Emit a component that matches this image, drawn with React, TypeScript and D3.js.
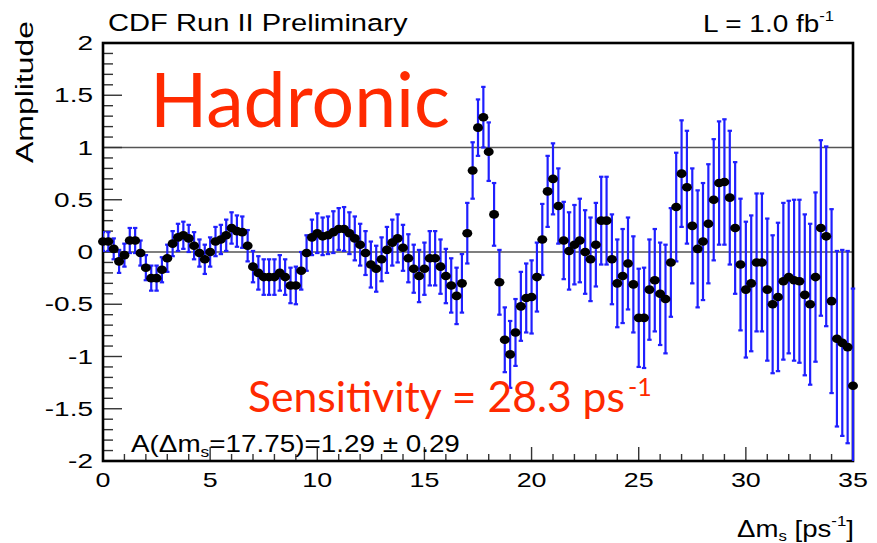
import React from "react";
import * as d3 from "d3";

// Amplitude scan: one point every 0.25 ps^-1 from 0 to 35 ps^-1
const AMPLITUDE = [
  0.10, 0.10, 0.03, -0.09, -0.03, 0.11, 0.11, -0.01, -0.15, -0.25,
  -0.25, -0.17, -0.06, 0.08, 0.14, 0.16, 0.13, 0.06, -0.01, -0.07,
  0.00, 0.10, 0.12, 0.16, 0.23, 0.20, 0.19, 0.06, -0.14, -0.20,
  -0.24, -0.24, -0.24, -0.20, -0.24, -0.32, -0.32, -0.18, -0.01, 0.14,
  0.18, 0.15, 0.16, 0.19, 0.22, 0.22, 0.18, 0.13, 0.07, -0.01,
  -0.12, -0.16, -0.07, 0.02, 0.09, 0.13, 0.04, -0.06, -0.16, -0.23,
  -0.16, -0.06, -0.06, -0.14, -0.23, -0.32, -0.42, -0.30, 0.18, 0.78,
  1.19, 1.29, 0.96, 0.36, -0.29, -0.84, -0.98, -0.77, -0.52, -0.44,
  -0.43, -0.24, 0.12, 0.58, 0.70, 0.44, 0.11, 0.01, 0.07, 0.11,
  0.00, -0.07, 0.07, 0.30, 0.30, -0.07, -0.30, -0.23, -0.11, -0.31,
  -0.63, -0.63, -0.36, -0.27, -0.40, -0.45, -0.10, 0.43, 0.75, 0.62,
  0.25, 0.03, 0.10, 0.27, 0.50, 0.66, 0.67, 0.52, 0.23, -0.12,
  -0.36, -0.30, -0.10, -0.10, -0.36, -0.50, -0.43, -0.28, -0.24, -0.27,
  -0.28, -0.41, -0.50, -0.24, 0.23, 0.15, -0.47, -0.83, -0.87, -0.91,
  -1.28,
];

const SIGMA = [
  0.09, 0.09, 0.10, 0.11, 0.11, 0.12, 0.12, 0.12, 0.12, 0.12,
  0.12, 0.12, 0.13, 0.12, 0.13, 0.13, 0.13, 0.13, 0.13, 0.14,
  0.14, 0.14, 0.14, 0.15, 0.15, 0.15, 0.15, 0.15, 0.15, 0.16,
  0.17, 0.17, 0.17, 0.17, 0.17, 0.17, 0.18, 0.18, 0.17, 0.17,
  0.19, 0.18, 0.18, 0.20, 0.20, 0.21, 0.20, 0.21, 0.20, 0.21,
  0.22, 0.22, 0.21, 0.22, 0.22, 0.23, 0.22, 0.23, 0.23, 0.25,
  0.25, 0.26, 0.26, 0.26, 0.26, 0.26, 0.27, 0.28, 0.29, 0.27,
  0.27, 0.29, 0.28, 0.30, 0.31, 0.31, 0.32, 0.32, 0.33, 0.33,
  0.35, 0.33, 0.34, 0.34, 0.34, 0.36, 0.37, 0.37, 0.38, 0.40,
  0.40, 0.40, 0.40, 0.42, 0.42, 0.43, 0.42, 0.45, 0.44, 0.46,
  0.47, 0.48, 0.48, 0.49, 0.49, 0.52, 0.52, 0.52, 0.51, 0.54,
  0.55, 0.56, 0.56, 0.57, 0.58, 0.59, 0.60, 0.64, 0.63, 0.63,
  0.65, 0.65, 0.66, 0.66, 0.68, 0.66, 0.71, 0.75, 0.73, 0.77,
  0.78, 0.77, 0.77, 0.81, 0.84, 0.86, 0.88, 0.84, 0.89, 0.92,
  0.93,
];

const DM_STEP = 0.25;
const X_MAJOR = [0, 5, 10, 15, 20, 25, 30, 35];
const Y_MAJOR = [-2, -1.5, -1, -0.5, 0, 0.5, 1, 1.5, 2];
const Y_LABELS = ["-2", "-1.5", "-1", "-0.5", "0", "0.5", "1", "1.5", "2"];
const REF_LINES = [0, 1];

const W = 877;
const H = 543;
const LEFT = 103;
const RIGHT = 853;
const TOP = 43;
const BOTTOM = 461;

const ROOT_FONT = "'Liberation Sans', Arial, Helvetica, sans-serif";
const RED_FONT = "Lato, 'Open Sans', sans-serif";
const RED = "#ff2a00";
const BLUE = "#1f1fff";

function SText(props: {
  x: number;
  y: number;
  sx?: number;
  size: number;
  anchor?: string;
  fill?: string;
  children: React.ReactNode;
}) {
  const { x, y, sx = 1.25, size, anchor = "start", fill = "#000", children } = props;
  return (
    <text
      transform={`translate(${x},${y}) scale(${sx},1)`}
      fontSize={size}
      textAnchor={anchor}
      fill={fill}
      fontFamily={ROOT_FONT}
    >
      {children}
    </text>
  );
}

export default function App() {
  const x = d3.scaleLinear().domain([0, 35]).range([LEFT, RIGHT]);
  const y = d3.scaleLinear().domain([-2, 2]).range([BOTTOM, TOP]);

  const points = AMPLITUDE.map((a, i) => ({ dm: i * DM_STEP, a, s: SIGMA[i] }));
  const xMinor = d3.range(0, 36, 1).filter((v) => v % 5 !== 0);
  const yMinor = d3.range(-20, 21, 1).filter((v) => v % 5 !== 0).map((v) => v / 10);

  return (
    <svg
      width={W}
      height={H}
      style={{ position: "absolute", left: 0, top: 0, background: "#fff" }}
    >
      <defs>
        <clipPath id="frame">
          <rect x={LEFT} y={TOP} width={RIGHT - LEFT + 3} height={BOTTOM - TOP} />
        </clipPath>
      </defs>

      {/* reference lines at A = 0 and A = 1 */}
      {REF_LINES.map((v) => (
        <line key={v} x1={LEFT} x2={RIGHT} y1={y(v)} y2={y(v)} stroke="#555" strokeWidth={1.4} />
      ))}

      {/* y ticks */}
      {Y_MAJOR.map((v) => (
        <line key={"ym" + v} x1={LEFT} x2={LEFT + 19} y1={y(v)} y2={y(v)} stroke="#333" strokeWidth={1.4} />
      ))}
      {yMinor.map((v) => (
        <line key={"yn" + v} x1={LEFT} x2={LEFT + 10} y1={y(v)} y2={y(v)} stroke="#333" strokeWidth={1.4} />
      ))}
      {/* x ticks */}
      {X_MAJOR.map((v) => (
        <line key={"xm" + v} x1={x(v)} x2={x(v)} y1={BOTTOM} y2={BOTTOM - 14} stroke="#333" strokeWidth={1.4} />
      ))}
      {xMinor.map((v) => (
        <line key={"xn" + v} x1={x(v)} x2={x(v)} y1={BOTTOM} y2={BOTTOM - 7} stroke="#333" strokeWidth={1.4} />
      ))}

      {/* frame */}
      <rect x={LEFT} y={TOP} width={RIGHT - LEFT} height={BOTTOM - TOP} fill="none" stroke="#000" strokeWidth={2.6} />

      {/* error bars */}
      <g clipPath="url(#frame)" stroke={BLUE} strokeWidth={2.2}>
        {points.map((p, i) => {
          const cx = x(p.dm);
          const y1 = y(p.a + p.s);
          const y2 = y(p.a - p.s);
          return (
            <g key={i}>
              <line x1={cx} x2={cx} y1={y1} y2={y2} />
              <line x1={cx - 2.2} x2={cx + 2.2} y1={y1} y2={y1} />
              <line x1={cx - 2.2} x2={cx + 2.2} y1={y2} y2={y2} />
            </g>
          );
        })}
      </g>

      {/* markers */}
      <g fill="#000">
        {points.map((p, i) => (
          <ellipse key={i} cx={x(p.dm)} cy={y(p.a)} rx={5} ry={4.3} />
        ))}
      </g>

      {/* tick labels */}
      {Y_MAJOR.map((v, i) => (
        <SText key={"yl" + v} x={93} y={y(v) + 7} size={20} sx={1.4} anchor="end">
          {Y_LABELS[i]}
        </SText>
      ))}
      {X_MAJOR.map((v) => (
        <SText key={"xl" + v} x={x(v)} y={487} size={21} sx={1.28} anchor="middle">
          {String(v)}
        </SText>
      ))}

      {/* axis titles */}
      <text
        transform={`translate(33,163) rotate(-90)`}
        fontSize={23}
        fontFamily={ROOT_FONT}
        textLength={142}
        lengthAdjust="spacingAndGlyphs"
      >
        Amplitude
      </text>
      <SText x={737} y={537} size={23} sx={1.2}>
        Δm<tspan fontSize={14} dy={4}>s</tspan>
        <tspan fontSize={23} dy={-4}> [ps</tspan>
        <tspan fontSize={14} dy={-11}>-1</tspan>
        <tspan fontSize={23} dy={11}>]</tspan>
      </SText>

      {/* header */}
      <SText x={108} y={31} size={23.5} sx={1.24}>
        CDF Run II Preliminary
      </SText>
      <SText x={703} y={32} size={23.5} sx={1.19}>
        L = 1.0 fb<tspan fontSize={14} dy={-11}>-1</tspan>
      </SText>

      {/* fit result at the peak */}
      <SText x={131} y={452} size={24} sx={1.16}>
        A(Δm<tspan fontSize={15} dy={5}>s</tspan>
        <tspan fontSize={24} dy={-5}>=17.75)=1.29 ± 0.29</tspan>
      </SText>

      {/* red annotations */}
      <text
        x={150}
        y={127}
        fontSize={76}
        fill={RED}
        fontFamily={RED_FONT}
        textLength={300}
        lengthAdjust="spacingAndGlyphs"
      >
        Hadronic
      </text>
      <text
        x={248}
        y={412}
        fontSize={42}
        fill={RED}
        fontFamily={RED_FONT}
        textLength={377}
        lengthAdjust="spacingAndGlyphs"
      >
        Sensitivity = 28.3 ps
      </text>
      <text x={628} y={396} fontSize={25} fill={RED} fontFamily={RED_FONT}>
        -1
      </text>
    </svg>
  );
}
